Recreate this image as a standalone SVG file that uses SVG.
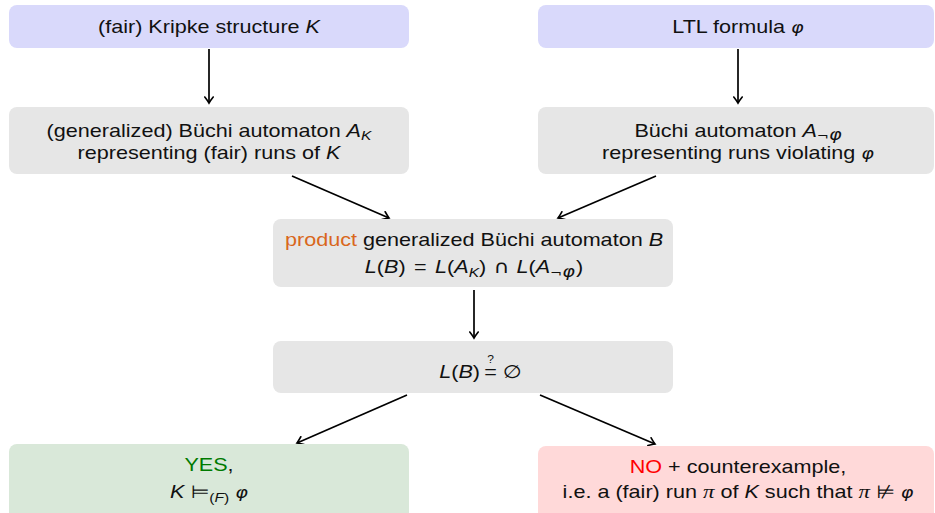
<svg xmlns="http://www.w3.org/2000/svg" width="935" height="513" viewBox="0 0 935 513">
  <defs>
    <style>
      .box { stroke: none; }
      .blue { fill: #d9d9fb; }
      .grey { fill: #e6e6e6; }
      .green { fill: #d9e8d9; }
      .red { fill: #ffd9d9; }
      text { font-family: "Liberation Sans", Arial, sans-serif; font-size: 18px; fill: #111; text-anchor: middle; }
      text.end { text-anchor: end; }
      text.start { text-anchor: start; }
      text.tiny { font-size: 10px; }
      .m { font-style: italic; }
      .sym { font-family: "DejaVu Sans", sans-serif; font-style: normal; }
      .phi { font-family: "DejaVu Sans", sans-serif; font-style: italic; font-size: 16px; }
      .pi { font-family: "Liberation Serif", serif; font-style: italic; font-size: 19px; }
      .edge { stroke: #000; stroke-width: 1.7; fill: none; marker-end: url(#tip); }
    </style>
    <marker id="tip" viewBox="-7 -5 9 10" markerWidth="9" markerHeight="10" refX="0" refY="0" orient="auto" markerUnits="userSpaceOnUse">
      <path d="M -6 -4.2 Q -1.8 -1 0 0 Q -1.8 1 -6 4.2" fill="none" stroke="#000" stroke-width="1.6" stroke-linecap="round"/>
    </marker>
  </defs>

  <!-- connectors -->
  <g id="edges">
    <line class="edge" x1="209" y1="49" x2="209" y2="103"/>
    <line class="edge" x1="738" y1="49" x2="738" y2="103"/>
    <line class="edge" x1="292" y1="176" x2="389" y2="218"/>
    <line class="edge" x1="656" y1="176" x2="558" y2="218"/>
    <line class="edge" x1="474" y1="290" x2="474" y2="338"/>
    <line class="edge" x1="407" y1="395" x2="297" y2="443"/>
    <line class="edge" x1="540" y1="395" x2="655" y2="444"/>
  </g>

  <g id="kripke">
    <rect class="box blue" x="9" y="5" width="400" height="43" rx="8"/>
    <text transform="translate(209 33) scale(1.2 1)">(fair) Kripke structure <tspan class="m">K</tspan></text>
  </g>

  <g id="ltl">
    <rect class="box blue" x="538" y="5" width="396" height="43" rx="8"/>
    <text transform="translate(738 33) scale(1.2 1)">LTL formula <tspan class="phi">φ</tspan></text>
  </g>

  <g id="buchiK">
    <rect class="box grey" x="9" y="107" width="400" height="67" rx="8"/>
    <text transform="translate(209 137) scale(1.2 1)">(generalized) Büchi automaton <tspan class="m">A</tspan><tspan class="m" font-size="13" dy="3">K</tspan></text>
    <text transform="translate(209 159) scale(1.2 1)">representing (fair) runs of <tspan class="m">K</tspan></text>
  </g>

  <g id="buchiPhi">
    <rect class="box grey" x="538" y="107" width="396" height="67" rx="8"/>
    <text transform="translate(738 137) scale(1.2 1)">Büchi automaton <tspan class="m">A</tspan><tspan class="sym" font-size="12" dy="3">¬</tspan><tspan class="phi" font-size="12">φ</tspan></text>
    <text transform="translate(738 159) scale(1.2 1)">representing runs violating <tspan class="phi">φ</tspan></text>
  </g>

  <g id="product">
    <rect class="box grey" x="273" y="219" width="400" height="68" rx="8"/>
    <text transform="translate(474 246) scale(1.2 1)"><tspan fill="#d9671c">product</tspan> generalized Büchi automaton <tspan class="m">B</tspan></text>
    <text transform="translate(474 273) scale(1.2 1)"><tspan class="m">L</tspan>(<tspan class="m">B</tspan>) <tspan dx="2">=</tspan> <tspan class="m" dx="2">L</tspan>(<tspan class="m">A</tspan><tspan class="m" font-size="13" dy="4">K</tspan><tspan dy="-4">) </tspan><tspan class="sym" dx="1">∩</tspan> <tspan class="m" dx="1">L</tspan>(<tspan class="m">A</tspan><tspan class="sym" font-size="12" dy="4">¬</tspan><tspan class="phi" font-size="12">φ</tspan><tspan dy="-4" dx="1">)</tspan></text>
  </g>

  <g id="emptiness">
    <rect class="box grey" x="273" y="341" width="400" height="52" rx="8"/>
    <text class="end" transform="translate(480 378) scale(1.2 1)"><tspan class="m">L</tspan>(<tspan class="m">B</tspan>)</text>
    <text transform="translate(490.5 378) scale(1.2 1)">=</text>
    <text class="tiny" transform="translate(490.5 363) scale(1.2 1)">?</text>
    <text class="start sym" transform="translate(503 378) scale(1.2 1)">∅</text>
  </g>

  <g id="yes">
    <rect class="box green" x="9" y="444" width="400" height="76" rx="8"/>
    <text transform="translate(209 471) scale(1.2 1)"><tspan fill="#007a00">YES</tspan>,</text>
    <text transform="translate(209 498) scale(1.2 1)"><tspan class="m">K</tspan> <tspan class="sym">⊨</tspan><tspan font-size="13" dy="4">(<tspan class="m">F</tspan>)</tspan> <tspan class="phi" dy="-4">φ</tspan></text>
  </g>

  <g id="no">
    <rect class="box red" x="538" y="446" width="396" height="74" rx="8"/>
    <text transform="translate(738 473) scale(1.2 1)"><tspan fill="#ff0000">NO</tspan> + counterexample,</text>
    <text transform="translate(738 498) scale(1.2 1)">i.e. a (fair) run <tspan class="pi">π</tspan> of <tspan class="m">K</tspan> such that <tspan class="pi">π</tspan> <tspan class="sym">⊭</tspan> <tspan class="phi">φ</tspan></text>
  </g>
</svg>
